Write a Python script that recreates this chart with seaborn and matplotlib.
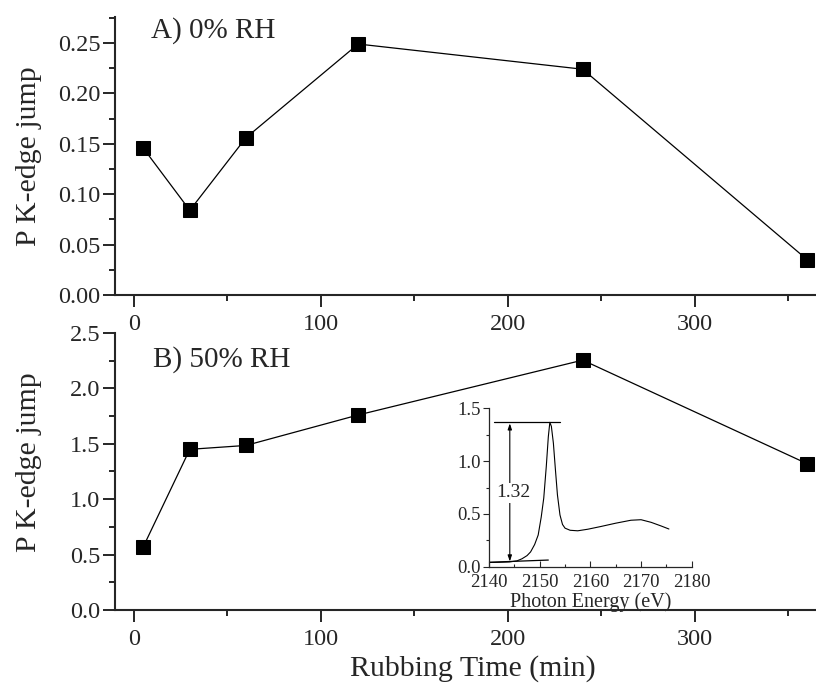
import matplotlib
matplotlib.use("Agg")
import matplotlib.pyplot as plt
from matplotlib.ticker import MultipleLocator, FormatStrFormatter
import pandas as pd
import seaborn as sns

# Rubbing times (min) and P K-edge jump values for the two humidity conditions
rub_time = [5, 30, 60, 120, 240, 360]
jump_dry = [0.146, 0.084, 0.156, 0.249, 0.224, 0.035]
jump_humid = [0.566, 1.45, 1.485, 1.76, 2.255, 1.32]

# P K-edge XANES spectrum of the 360 min, 50% RH sample
energy_ev = [2140.0, 2142.0, 2144.0, 2145.5, 2146.5, 2147.5, 2148.2, 2149.0,
             2149.7, 2150.3, 2150.8, 2151.3, 2151.7, 2152.0, 2152.3, 2152.7,
             2153.1, 2153.5, 2154.0, 2154.5, 2155.0, 2156.0, 2157.5, 2159.5,
             2162.0, 2165.0, 2168.0, 2170.0, 2172.0, 2174.0, 2175.5]
absorbance = [0.040, 0.042, 0.045, 0.055, 0.075, 0.105, 0.140, 0.210,
              0.300, 0.470, 0.650, 0.950, 1.230, 1.367, 1.330, 1.170,
              0.920, 0.680, 0.490, 0.400, 0.365, 0.345, 0.340, 0.355,
              0.380, 0.412, 0.440, 0.445, 0.420, 0.385, 0.357]

# Edge-jump construction: post-edge maximum, pre-edge baseline, jump value
edge_top = 1.367
edge_top_range = [2141.0, 2154.1]
baseline_x = [2140.0, 2151.7]
baseline_y = [0.042, 0.063]
jump_x = 2144.1
jump_label = "1.32"

sns.set_style("ticks")
plt.rcParams["font.family"] = ["Liberation Serif", "DejaVu Serif"]

fig = plt.figure(figsize=(8.16, 6.86), dpi=100)
ax_a = fig.add_axes([0.1409, 0.570, 0.8591, 0.4052])
ax_b = fig.add_axes([0.1409, 0.1108, 0.8591, 0.4038])
ax_in = fig.add_axes([0.5993, 0.1739, 0.2484, 0.2309])

df_a = pd.DataFrame({"time": rub_time, "jump": jump_dry})
df_b = pd.DataFrame({"time": rub_time, "jump": jump_humid})

for ax, df in ((ax_a, df_a), (ax_b, df_b)):
    sns.lineplot(data=df, x="time", y="jump", ax=ax, color="black",
                 linewidth=0.9, marker="s", markersize=9.5,
                 markeredgecolor="black", markerfacecolor="black",
                 clip_on=False)
    ax.set_xlim(-10, 364.7)
    ax.xaxis.set_major_locator(MultipleLocator(100))
    ax.xaxis.set_minor_locator(MultipleLocator(50))
    for side in ("top", "right"):
        ax.spines[side].set_visible(False)
    for side in ("left", "bottom"):
        ax.spines[side].set_linewidth(1.5)
    ax.tick_params(which="major", direction="out", length=8.5, width=1.4,
                   labelsize=17.5, pad=5)
    ax.tick_params(which="minor", direction="out", length=4.5, width=1.4)
    ax.tick_params(axis="y", which="major", pad=2)
    ax.set_xlabel("")
    ax.set_ylabel("P K-edge jump", fontsize=21.5)

ax_a.set_ylim(0, 0.2758)
ax_a.yaxis.set_major_locator(MultipleLocator(0.05))
ax_a.yaxis.set_minor_locator(MultipleLocator(0.025))
ax_a.yaxis.set_major_formatter(FormatStrFormatter("%.2f"))
ax_a.yaxis.set_label_coords(-0.104, 0.5)
ax_a.text(0.052, 0.924, "A) 0% RH", transform=ax_a.transAxes,
          fontsize=21, va="baseline", ha="left")

ax_b.set_ylim(0, 2.5)
ax_b.yaxis.set_major_locator(MultipleLocator(0.5))
ax_b.yaxis.set_minor_locator(MultipleLocator(0.25))
ax_b.yaxis.set_major_formatter(FormatStrFormatter("%.1f"))
ax_b.yaxis.set_label_coords(-0.104, 0.532)
ax_b.text(0.054, 0.878, "B) 50% RH", transform=ax_b.transAxes,
          fontsize=21, va="baseline", ha="left")
ax_b.set_xlabel("Rubbing Time (min)", fontsize=21.5)
ax_b.xaxis.set_label_coords(0.511, -0.163)

# Inset: spectrum with the edge-jump construction
df_s = pd.DataFrame({"energy": energy_ev, "abs": absorbance})
sns.lineplot(data=df_s, x="energy", y="abs", ax=ax_in, color="black",
             linewidth=0.8)
ax_in.plot(edge_top_range, [edge_top, edge_top], color="black", lw=0.9)
ax_in.plot(baseline_x, baseline_y, color="black", lw=0.9)
ax_in.annotate("", xy=(jump_x, edge_top - 0.01), xytext=(jump_x, 0.05),
               arrowprops=dict(arrowstyle="<|-|>,head_length=0.35,head_width=0.12",
                               color="black", lw=0.8, shrinkA=0, shrinkB=0))
ax_in.text(jump_x + 0.7, 0.70, jump_label, fontsize=14, ha="center",
           va="center", bbox=dict(facecolor="white", edgecolor="none", pad=1))
ax_in.set_xlim(2140, 2180)
ax_in.set_ylim(0, 1.5)
ax_in.set_facecolor("none")
ax_in.xaxis.set_major_locator(MultipleLocator(10))
ax_in.xaxis.set_minor_locator(MultipleLocator(5))
ax_in.yaxis.set_major_locator(MultipleLocator(0.5))
ax_in.yaxis.set_minor_locator(MultipleLocator(0.25))
ax_in.yaxis.set_major_formatter(FormatStrFormatter("%.1f"))
for side in ("top", "right"):
    ax_in.spines[side].set_visible(False)
for side in ("left", "bottom"):
    ax_in.spines[side].set_linewidth(0.9)
ax_in.tick_params(axis="x", which="major", direction="in", length=4,
                  width=0.8, labelsize=13.5, pad=5.5)
ax_in.tick_params(axis="x", which="minor", direction="in", length=2.5,
                  width=0.8)
ax_in.tick_params(axis="y", which="major", direction="out", length=4,
                  width=0.8, labelsize=13.5, pad=2)
ax_in.tick_params(axis="y", which="minor", direction="out", length=2.5,
                  width=0.8)
ax_in.set_xlabel("Photon Energy (eV)", fontsize=14.5, labelpad=0.5)
ax_in.set_ylabel("")

fig.savefig("out.png", dpi=100)
